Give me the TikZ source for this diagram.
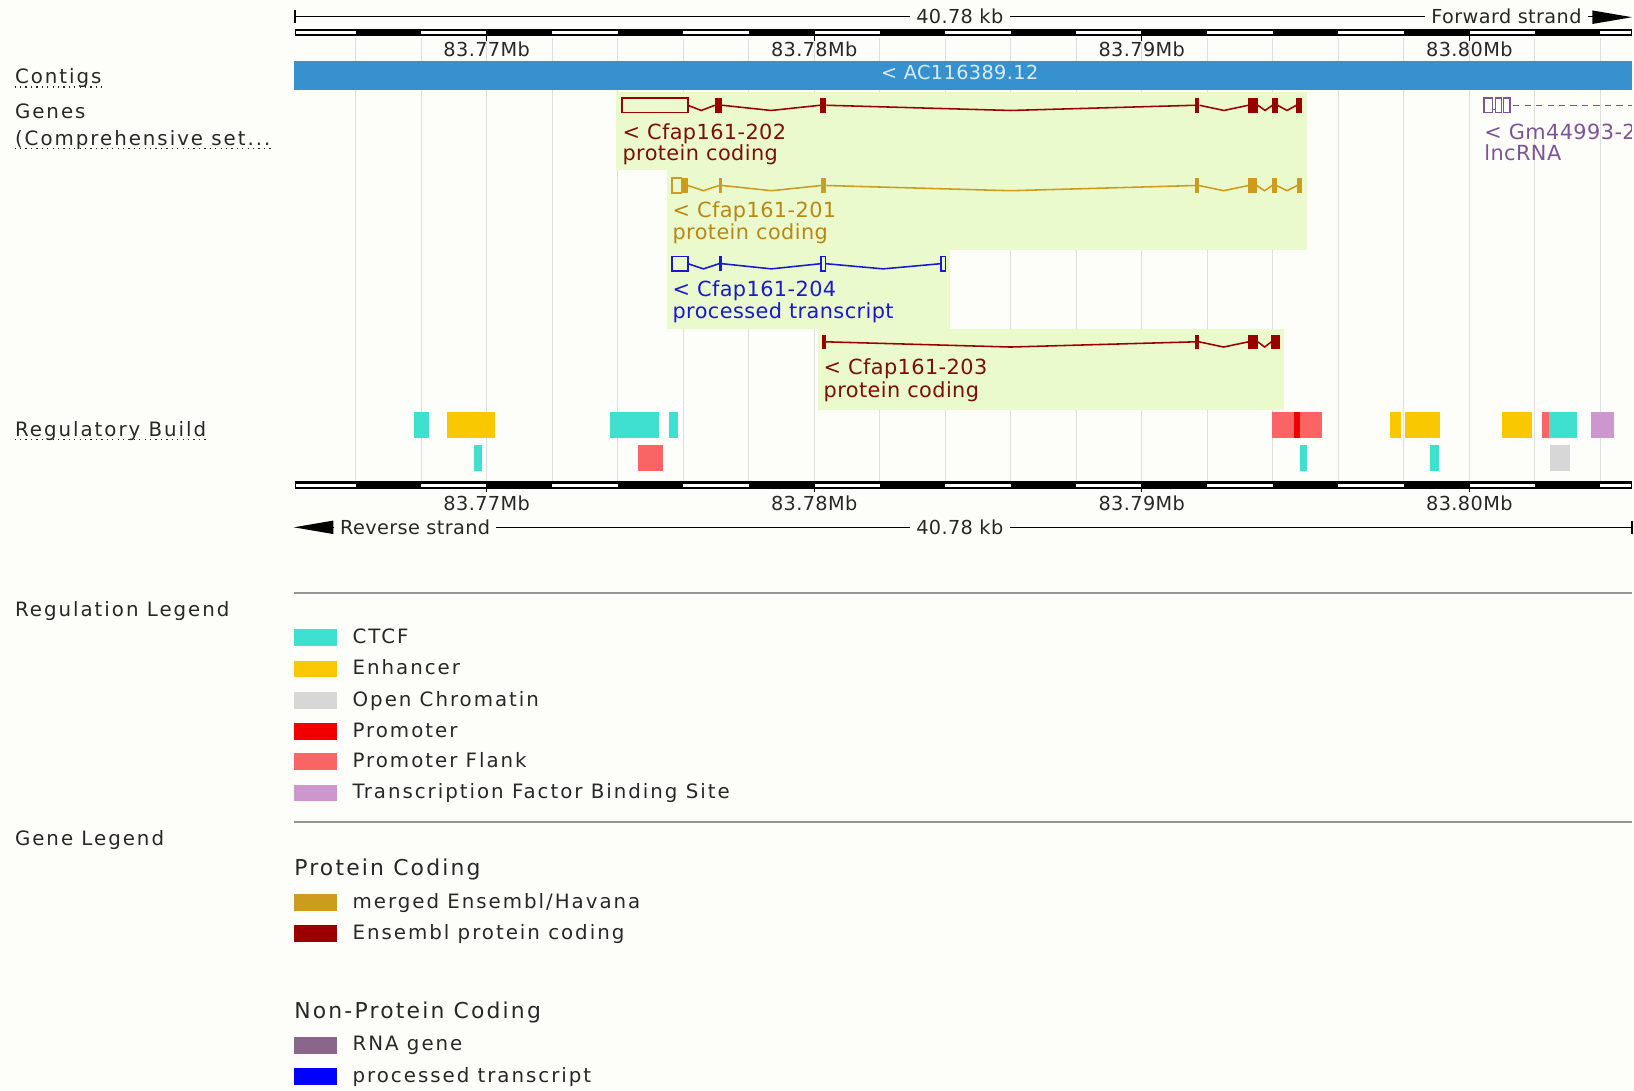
\documentclass[tikz,border=0pt]{standalone}
\usepackage{fontspec}
\setmainfont{DejaVu Sans}
\newfontfamily\legfont[LetterSpace=10]{DejaVu Sans}
\newfontfamily\trkfont[LetterSpace=2]{DejaVu Sans}
\definecolor{bg}{RGB}{253,253,249}
\definecolor{contig}{RGB}{54,145,206}
\definecolor{contigtxt}{RGB}{215,238,250}
\definecolor{hl}{RGB}{234,250,205}
\definecolor{gridc}{RGB}{222,222,222}
\definecolor{ensred}{RGB}{155,0,0}
\definecolor{ensredtxt}{RGB}{125,15,5}
\definecolor{merged}{RGB}{205,155,29}
\definecolor{mergedtxt}{RGB}{185,135,20}
\definecolor{ptrans}{RGB}{25,25,205}
\definecolor{lncc}{RGB}{125,85,150}
\definecolor{rnagene}{RGB}{139,102,139}
\definecolor{ctcf}{RGB}{64,224,208}
\definecolor{enh}{RGB}{250,200,0}
\definecolor{openc}{RGB}{215,215,215}
\definecolor{prom}{RGB}{240,0,0}
\definecolor{pflank}{RGB}{250,100,100}
\definecolor{tfbs}{RGB}{205,150,205}
\definecolor{labtxt}{RGB}{40,40,40}
\definecolor{sepc}{RGB}{150,150,150}
\newcommand\gexon[4]{\fill[#4] (#1,{#3-7}) rectangle (#2,{#3+7});}
\newcommand\gutr[4]{\draw[#4,line width=0.75pt] (#1,{#3-7}) rectangle (#2,{#3+7});}
\newcommand\gintron[4]{\draw[#4,line width=0.75pt] (#1,#3) -- ({(#1+#2)/2},{#3+5}) -- (#2,#3);}
\begin{document}
\begin{tikzpicture}[x=0.5pt,y=-0.5pt,
  lab/.style={inner sep=0pt,anchor=mid west,text=labtxt,font=\legfont\fontsize{9.5pt}{11pt}\selectfont},
  head/.style={inner sep=0pt,anchor=mid west,text=labtxt,font=\legfont\fontsize{10.5pt}{12pt}\selectfont},
  rul/.style={inner sep=0pt,text=labtxt,font=\trkfont\fontsize{9.25pt}{11pt}\selectfont},
  gtxt/.style={inner sep=0pt,anchor=mid west,font=\trkfont\fontsize{10pt}{12pt}\selectfont},
  uline/.style={labtxt,dotted,line width=0.6pt},
  swatch/.style={inner sep=0pt,minimum width=20.5pt,minimum height=8pt,anchor=west}]
\path[use as bounding box,fill=bg] (0,0) rectangle (1568,1046);
% ---------- grid lines
\foreach \gx in {341.3,404.1,467,529.9,592.7,655.6,718.5,781.3,844.2,907,969.9,1032.8,1095.6,1158.5,1221.4,1284.2,1347.1,1410,1472.9,1535.7}
  \draw[gridc,line width=0.5pt] (\gx,36) -- (\gx,462);
% ---------- top scale
\draw[black,line width=0.6pt] (283,10) -- (283,22);
\draw[black,line width=0.6pt] (283,16) -- (1530,16);
\node[rul,fill=bg,inner xsep=3pt] (kbtop) at (921,16) {40.78 kb};
\node[rul,fill=bg,inner xsep=3pt,anchor=east] (fwd) at (1524,16) {Forward strand};
\fill[black] (1528,10) -- (1566,16.5) -- (1528,23) -- cycle;
% ---------- rulers (top and bottom)
\foreach \ry in {28,462}{
  \fill[black] (283,\ry) rectangle (1566,{\ry+7});
  \foreach \a/\b in {284/341.3,404.1/467,529.9/592.7,655.6/718.5,781.3/844.2,907/969.9,1032.8/1095.6,1158.5/1221.4,1284.2/1347.1,1410/1472.9,1535.7/1565}
    \fill[white] (\a,{\ry+2}) rectangle (\b,{\ry+5});
}
\foreach \mx/\ml in {467/83.77Mb,781.3/83.78Mb,1095.6/83.79Mb,1410/83.80Mb}{
  \draw[black,line width=0.6pt] (\mx,28) -- (\mx,39);
  \node[rul] at (\mx,47) {\ml};
  \draw[black,line width=0.6pt] (\mx,462) -- (\mx,472);
  \node[rul] at (\mx,483) {\ml};
}
% ---------- bottom scale
\draw[black,line width=0.6pt] (318,506) -- (1566,506);
\draw[black,line width=0.6pt] (1566,500) -- (1566,512);
\fill[black] (282,506) -- (320,499.5) -- (320,512.5) -- cycle;
\node[rul,fill=bg,inner xsep=3pt,anchor=west] (rev) at (320,506) {Reverse strand};
\node[rul,fill=bg,inner xsep=3pt] (kbbot) at (921,506) {40.78 kb};
% ---------- contig
\fill[contig] (282,59) rectangle (1566,86);
\node[rul,text=contigtxt] (ctg) at (921,70) {< AC116389.12};
% ---------- gene highlight boxes
\fill[hl] (591,88) rectangle (1254,163);
\fill[hl] (640,163) rectangle (1254,240);
\fill[hl] (640,240) rectangle (912,316);
\fill[hl] (785,316) rectangle (1232,393);
% ---------- Cfap161-202
\gutr{597}{660}{101}{ensred}
\gintron{660}{686}{101}{ensred}
\gexon{686}{693}{101}{ensred}
\gintron{693}{787}{101}{ensred}
\gexon{787}{793}{101}{ensred}
\gintron{793}{1147}{101}{ensred}
\gexon{1147}{1151}{101}{ensred}
\gintron{1151}{1198}{101}{ensred}
\gexon{1198}{1207}{101}{ensred}
\gintron{1207}{1221}{101}{ensred}
\gexon{1221}{1226}{101}{ensred}
\gintron{1226}{1244}{101}{ensred}
\gexon{1244}{1249}{101}{ensred}
\node[gtxt,text=ensredtxt] (g202a) at (597,128) {< Cfap161-202};
\node[gtxt,text=ensredtxt] (g202b) at (597,149) {protein coding};
% ---------- Cfap161-201
\gutr{645}{654}{178}{merged}
\gexon{654}{660}{178}{merged}
\gintron{660}{690}{178}{merged}
\gexon{690}{693}{178}{merged}
\gintron{693}{788}{178}{merged}
\gexon{788}{793}{178}{merged}
\gintron{793}{1147}{178}{merged}
\gexon{1147}{1150.5}{178}{merged}
\gintron{1150.5}{1198}{178}{merged}
\gexon{1198}{1206}{178}{merged}
\gintron{1206}{1221}{178}{merged}
\gexon{1221}{1225}{178}{merged}
\gintron{1225}{1245}{178}{merged}
\gexon{1245}{1249}{178}{merged}
\node[gtxt,text=mergedtxt] (g201a) at (645,203) {< Cfap161-201};
\node[gtxt,text=mergedtxt] (g201b) at (645,224) {protein coding};
% ---------- Cfap161-204
\gutr{645}{660}{253}{ptrans}
\gintron{660}{690}{253}{ptrans}
\gexon{690}{692.5}{253}{ptrans}
\gintron{692.5}{788}{253}{ptrans}
\gutr{788}{792}{253}{ptrans}
\gintron{792}{903}{253}{ptrans}
\gutr{903}{907.5}{253}{ptrans}
\node[gtxt,text=ptrans] (g204a) at (645,279) {< Cfap161-204};
\node[gtxt,text=ptrans] (g204b) at (645,300) {processed transcript};
% ---------- Cfap161-203
\gexon{789}{792.5}{328}{ensred}
\gintron{792.5}{1147}{328}{ensred}
\gexon{1147}{1150.5}{328}{ensred}
\gintron{1150.5}{1198}{328}{ensred}
\gexon{1198}{1207}{328}{ensred}
\gintron{1207}{1220}{328}{ensred}
\gexon{1220}{1228}{328}{ensred}
\node[gtxt,text=ensredtxt] (g203a) at (790,354) {< Cfap161-203};
\node[gtxt,text=ensredtxt] (g203b) at (790,376) {protein coding};
% ---------- Gm44993 (clipped at track edge)
\begin{scope}
\clip (282,36) rectangle (1566,462);
\draw[lncc,line width=0.6pt] (1424,94) rectangle (1432,108);
\draw[lncc,line width=0.6pt] (1432,105) -- (1435,105);
\draw[lncc,line width=0.6pt] (1435,94) rectangle (1441,108);
\draw[lncc,line width=0.6pt] (1442.5,94) rectangle (1449,108);
\draw[lncc,line width=0.6pt,dash pattern=on 3pt off 2.5pt] (1452,101) -- (1570,101);
\node[gtxt,text=lncc] (gma) at (1424,128) {< Gm44993-2};
\node[gtxt,text=lncc] (gmb) at (1424,149) {lncRNA};
\end{scope}
% ---------- regulatory build
\foreach \a/\b/\c in {397/411.4/ctcf,429/475/enh,585.5/632/ctcf,642/651/ctcf,1221/1268.6/pflank,1242/1247/prom,1334/1344/enh,1348/1382/enh,1441/1470/enh,1479.5/1486/pflank,1486/1513/ctcf,1527/1549/tfbs}
  \fill[\c] (\a,395) rectangle (\b,420);
\foreach \a/\b/\c in {455/463/ctcf,612/636/pflank,1247/1254/ctcf,1372/1381/ctcf,1487/1507/openc}
  \fill[\c] (\a,427) rectangle (\b,452);
% ---------- left track labels
\node[lab] (tcontig) at (14,75) {Contigs};
\draw[uline] ([yshift=-1.5pt]tcontig.base west) -- ([yshift=-1.5pt]tcontig.base east);
\node[lab] (tgenes) at (14,108) {Genes};
\node[lab] (tcomp) at (14,134) {(Comprehensive set...};
\draw[uline] ([yshift=-1.5pt]tcomp.base west) -- ([yshift=-1.5pt]tcomp.base east);
\node[lab] (treg) at (14,413) {Regulatory Build};
\draw[uline] ([yshift=-1.5pt]treg.base west) -- ([yshift=-1.5pt]treg.base east);
% ---------- regulation legend
\node[lab] (rlegend) at (14,586) {Regulation Legend};
\draw[sepc,line width=0.75pt] (282,569) -- (1566,569);
\foreach \yy/\cc/\tt [count=\i] in {612/ctcf/CTCF,642/enh/Enhancer,672/openc/Open Chromatin,702/prom/Promoter,731/pflank/Promoter Flank,761/tfbs/Transcription Factor Binding Site}{
  \node[swatch,fill=\cc] (rs\i) at (282,\yy) {};
  \node[lab] (rt\i) at (338,\yy) {\tt};
}
% ---------- gene legend
\node[lab] (glegend) at (14,806) {Gene Legend};
\draw[sepc,line width=0.75pt] (282,789) -- (1566,789);
\node[head] (pc) at (282,835) {Protein Coding};
\node[swatch,fill=merged] (gs1) at (282,866) {};
\node[lab] (gt1) at (338,866) {merged Ensembl/Havana};
\node[swatch,fill=ensred] (gs2) at (282,896) {};
\node[lab] (gt2) at (338,896) {Ensembl protein coding};
\node[head] (npc) at (282,972) {Non-Protein Coding};
\node[swatch,fill=rnagene] (gs3) at (282,1003) {};
\node[lab] (gt3) at (338,1003) {RNA gene};
\node[swatch,fill=blue] (gs4) at (282,1033) {};
\node[lab] (gt4) at (338,1033) {processed transcript};
\end{tikzpicture}
\end{document}
